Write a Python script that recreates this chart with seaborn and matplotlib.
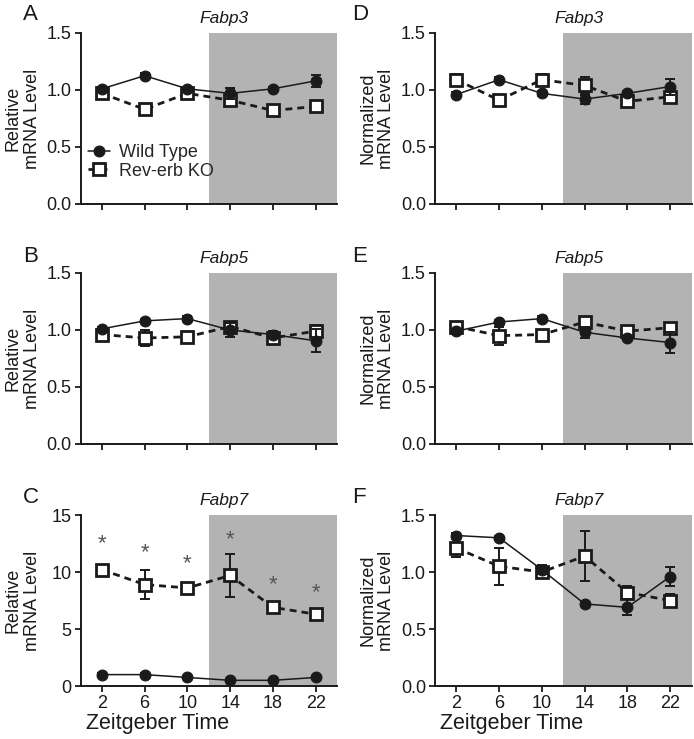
import numpy as np
import pandas as pd
import matplotlib.pyplot as plt
import seaborn as sns
from matplotlib.ticker import FormatStrFormatter

# time points (Zeitgeber time) shared by every panel
zt = [2, 6, 10, 14, 18, 22]

# A: Fabp3, relative
fabp3_rel_wt = [1.01, 1.125, 1.01, 0.97, 1.01, 1.08]
fabp3_rel_wt_err = [0.02, 0.02, 0.02, 0.05, 0.02, 0.05]
fabp3_rel_ko = [0.97, 0.83, 0.97, 0.91, 0.82, 0.855]
fabp3_rel_ko_err = [0.02, 0.02, 0.02, 0.03, 0.02, 0.02]

# B: Fabp5, relative
fabp5_rel_wt = [1.01, 1.08, 1.10, 1.00, 0.96, 0.905]
fabp5_rel_wt_err = [0.02, 0.02, 0.02, 0.06, 0.03, 0.10]
fabp5_rel_ko = [0.96, 0.93, 0.94, 1.03, 0.93, 0.99]
fabp5_rel_ko_err = [0.04, 0.07, 0.02, 0.04, 0.03, 0.05]

# C: Fabp7, relative
fabp7_rel_wt = [1.0, 1.0, 0.75, 0.5, 0.5, 0.75]
fabp7_rel_wt_err = [0.1, 0.1, 0.1, 0.1, 0.1, 0.1]
fabp7_rel_ko = [10.2, 8.9, 8.6, 9.7, 6.9, 6.3]
fabp7_rel_ko_err = [0.4, 1.3, 0.3, 1.9, 0.3, 0.3]
fabp7_star_y = [12.5, 11.7, 10.7, 12.8, 8.9, 8.2]

# D: Fabp3, normalized
fabp3_norm_wt = [0.96, 1.09, 0.97, 0.92, 0.97, 1.03]
fabp3_norm_wt_err = [0.02, 0.02, 0.02, 0.04, 0.02, 0.07]
fabp3_norm_ko = [1.09, 0.91, 1.09, 1.04, 0.90, 0.94]
fabp3_norm_ko_err = [0.05, 0.02, 0.05, 0.07, 0.03, 0.03]

# E: Fabp5, normalized
fabp5_norm_wt = [0.99, 1.07, 1.10, 0.98, 0.93, 0.89]
fabp5_norm_wt_err = [0.02, 0.02, 0.02, 0.05, 0.02, 0.09]
fabp5_norm_ko = [1.03, 0.95, 0.96, 1.07, 0.99, 1.02]
fabp5_norm_ko_err = [0.03, 0.08, 0.02, 0.03, 0.04, 0.04]

# F: Fabp7, normalized
fabp7_norm_wt = [1.32, 1.30, 1.02, 0.72, 0.69, 0.96]
fabp7_norm_wt_err = [0.02, 0.02, 0.04, 0.02, 0.07, 0.08]
fabp7_norm_ko = [1.21, 1.05, 1.00, 1.14, 0.82, 0.75]
fabp7_norm_ko_err = [0.08, 0.16, 0.05, 0.22, 0.06, 0.06]

sns.set_style("ticks")
plt.rcParams["font.family"] = ["Liberation Sans", "DejaVu Sans"]

SHADE = "#b3b3b3"
INK = "#1a1a1a"


def draw_panel(ax, wt, wt_err, ko, ko_err, title, ylabel, ymax, yticks, yfmt,
               show_xlabels, with_legend=False):
    # dark phase
    ax.axvspan(12, 24, color=SHADE, lw=0, zorder=0)

    df_ko = pd.DataFrame({"zt": zt, "val": ko})
    df_wt = pd.DataFrame({"zt": zt, "val": wt})

    ax.errorbar(zt, ko, yerr=ko_err, fmt="none", ecolor=INK, elinewidth=1.4,
                capsize=3.8, capthick=1.4, zorder=2.5)
    sns.lineplot(data=df_ko, x="zt", y="val", ax=ax, errorbar=None, color=INK,
                 linestyle=(0, (2.5, 1.8)), linewidth=2.0, marker="s", markersize=8.3,
                 markerfacecolor="white", markeredgecolor=INK, markeredgewidth=2.0,
                 label="Rev-erb KO" if with_legend else None, zorder=3)
    ax.errorbar(zt, wt, yerr=wt_err, fmt="none", ecolor=INK, elinewidth=1.4,
                capsize=3.8, capthick=1.4, zorder=4.5)
    sns.lineplot(data=df_wt, x="zt", y="val", ax=ax, errorbar=None, color=INK,
                 linewidth=1.1, marker="o", markersize=7.8, markeredgecolor=INK,
                 markeredgewidth=0.8, label="Wild Type" if with_legend else None,
                 zorder=5)

    ax.set_xlim(0, 24)
    ax.set_ylim(0, ymax)
    ax.set_xticks(zt)
    ax.set_yticks(yticks)
    ax.yaxis.set_major_formatter(FormatStrFormatter(yfmt))
    ax.tick_params(axis="both", direction="out", length=4, width=1.3, color=INK,
                   labelsize=13, pad=2.5, labelcolor=INK)
    for side in ["left", "bottom"]:
        ax.spines[side].set_linewidth(1.4)
        ax.spines[side].set_color(INK)
    sns.despine(ax=ax)

    ax.set_ylabel(ylabel, fontsize=13, color=INK, linespacing=1.15)
    ax.yaxis.set_label_coords(-0.155, 0.5)
    if show_xlabels:
        ax.set_xlabel("Zeitgeber Time", fontsize=15.5, color=INK)
        ax.xaxis.set_label_coords(0.30, -0.155)
    else:
        ax.set_xlabel("")
        ax.tick_params(axis="x", labelbottom=False)

    ax.text(0.56, 1.082, title, transform=ax.transAxes, ha="center", va="center",
            fontsize=12.5, style="italic", color=INK)

    if with_legend:
        handles, labels = ax.get_legend_handles_labels()
        order = [labels.index("Wild Type"), labels.index("Rev-erb KO")]
        ax.legend([handles[i] for i in order], [labels[i] for i in order],
                  loc="center left", bbox_to_anchor=(0.029, 0.246), frameon=False,
                  borderaxespad=0, borderpad=0, handlelength=1.2, handletextpad=0.5,
                  labelspacing=0.1, fontsize=13)
    else:
        leg = ax.get_legend()
        if leg is not None:
            leg.remove()


fig = plt.figure(figsize=(6.94, 7.39), dpi=100)

left_x, right_x = 0.116, 0.6268
col_w = 0.3696
row_h = 0.2314
row_b = [0.724, 0.3992, 0.0717]

rel_label = "Relative\nmRNA Level"
norm_label = "Normalized\nmRNA Level"
small_ticks = [0, 0.5, 1.0, 1.5]

ax_a = fig.add_axes([left_x, row_b[0], col_w, row_h])
draw_panel(ax_a, fabp3_rel_wt, fabp3_rel_wt_err, fabp3_rel_ko, fabp3_rel_ko_err,
           "Fabp3", rel_label, 1.5, small_ticks, "%.1f", False, with_legend=True)

ax_b = fig.add_axes([left_x, row_b[1], col_w, row_h])
draw_panel(ax_b, fabp5_rel_wt, fabp5_rel_wt_err, fabp5_rel_ko, fabp5_rel_ko_err,
           "Fabp5", rel_label, 1.5, small_ticks, "%.1f", False)

ax_c = fig.add_axes([left_x, row_b[2], col_w, row_h])
draw_panel(ax_c, fabp7_rel_wt, fabp7_rel_wt_err, fabp7_rel_ko, fabp7_rel_ko_err,
           "Fabp7", rel_label, 15, [0, 5, 10, 15], "%d", True)
# significance marks over the knockout series
for x, y in zip(zt, fabp7_star_y):
    ax_c.text(x, y, "*", ha="center", va="center", fontsize=16, color="#555555")

ax_d = fig.add_axes([right_x, row_b[0], col_w, row_h])
draw_panel(ax_d, fabp3_norm_wt, fabp3_norm_wt_err, fabp3_norm_ko, fabp3_norm_ko_err,
           "Fabp3", norm_label, 1.5, small_ticks, "%.1f", False)

ax_e = fig.add_axes([right_x, row_b[1], col_w, row_h])
draw_panel(ax_e, fabp5_norm_wt, fabp5_norm_wt_err, fabp5_norm_ko, fabp5_norm_ko_err,
           "Fabp5", norm_label, 1.5, small_ticks, "%.1f", False)

ax_f = fig.add_axes([right_x, row_b[2], col_w, row_h])
draw_panel(ax_f, fabp7_norm_wt, fabp7_norm_wt_err, fabp7_norm_ko, fabp7_norm_ko_err,
           "Fabp7", norm_label, 1.5, small_ticks, "%.1f", True)

# panel letters
for letter, x, y in [("A", 0.033, 0.973), ("B", 0.033, 0.6455), ("C", 0.033, 0.3193),
                     ("D", 0.507, 0.973), ("E", 0.507, 0.6455), ("F", 0.507, 0.3193)]:
    fig.text(x, y, letter, fontsize=16, ha="left", va="baseline", color=INK)

fig.savefig("out.png", dpi=100)
